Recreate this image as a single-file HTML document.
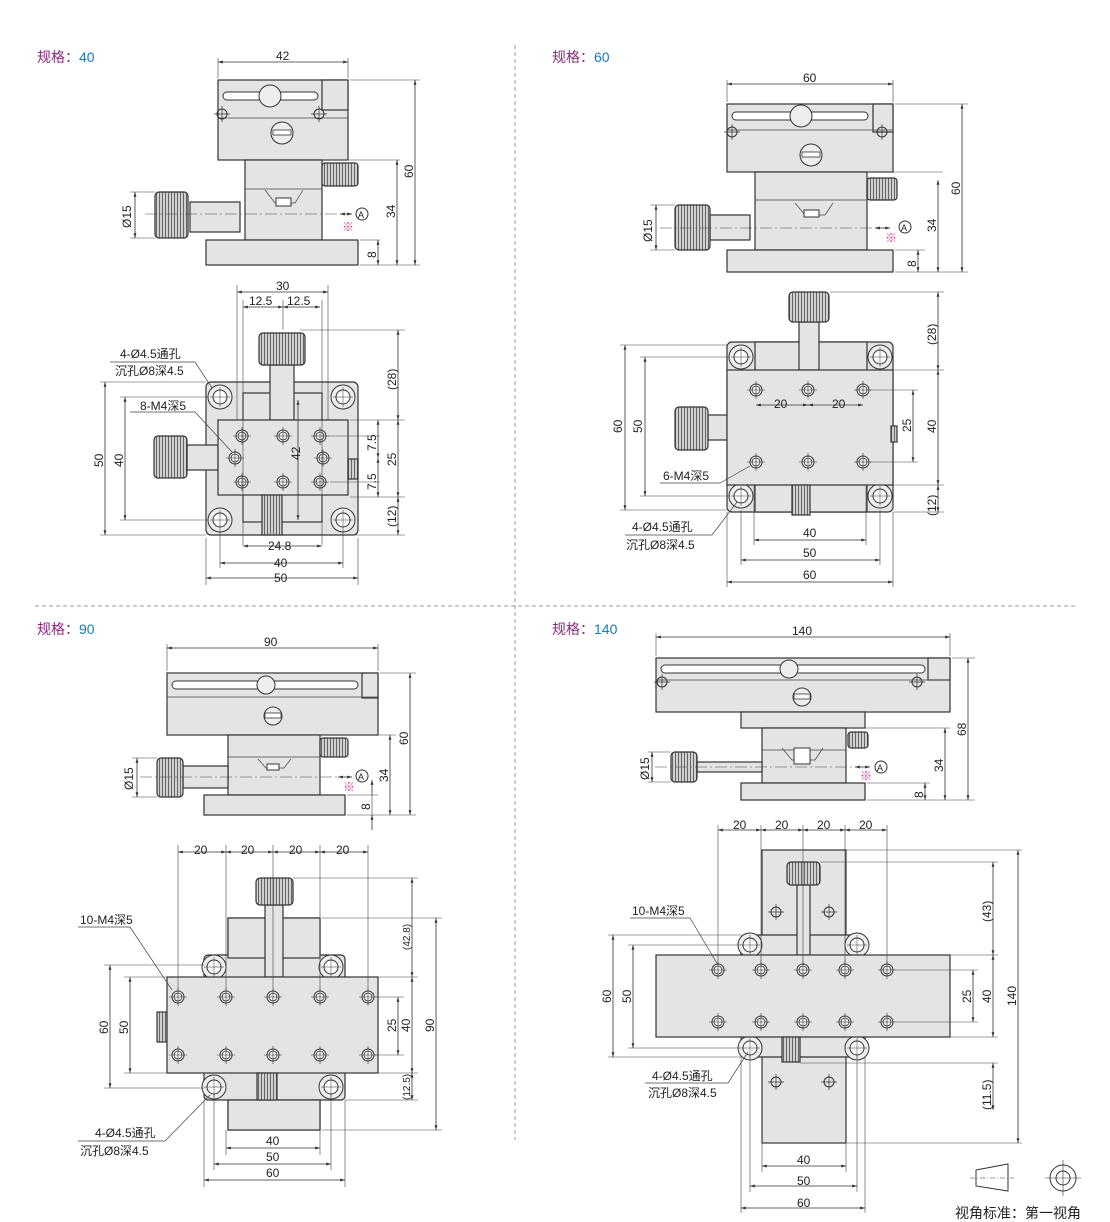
<!DOCTYPE html>
<html><head><meta charset="utf-8"><style>
html,body{margin:0;padding:0;background:#fff;}
svg{display:block;font-family:"Liberation Sans","Noto Sans CJK SC",sans-serif;}
.p{fill:#e4e4e4;stroke:#333;stroke-width:1.2}
.q{fill:url(#k);stroke:#333;stroke-width:1.2}
.d{stroke:#333;stroke-width:.8;fill:none;marker-start:url(#a);marker-end:url(#a)}
.e{stroke:#444;stroke-width:.6;fill:none}
.l{stroke:#444;stroke-width:.7;fill:none}
text{font-size:12px;fill:#222}
.t{font-size:14px}
.pu{fill:#8b2a7e}.bl{fill:#1a7ab8}
.pk{fill:#e0368c}
</style></head><body>
<svg width="1110" height="1222" viewBox="0 0 1110 1222">
<defs>
<pattern id="k" width="3" height="3" patternUnits="userSpaceOnUse"><rect width="3" height="3" fill="#d0d0d0"/><rect width="1" height="3" fill="#666"/></pattern>
<marker id="a" viewBox="0 0 10 10" refX="10" refY="5" markerWidth="8" markerHeight="6" orient="auto-start-reverse"><path d="M0,2 L10,5 L0,8z" fill="#333"/></marker>
<g id="h"><circle r="6" fill="#f4f4f4" stroke="#333" stroke-width="1"/><circle r="4" fill="none" stroke="#333" stroke-width=".8"/><path d="M-9,0H9M0,-9V9" stroke="#333" stroke-width=".6"/></g>
<g id="c"><circle r="12" fill="#eee" stroke="#333" stroke-width="1"/><circle r="7" fill="#fff" stroke="#333" stroke-width="1"/><path d="M-10,0H10M0,-10V10" stroke="#333" stroke-width=".5"/></g>
<g id="s"><circle r="5" fill="none" stroke="#333" stroke-width="1"/><path d="M-8,0H8M0,-8V8" stroke="#333" stroke-width=".7"/></g>
</defs>
<path d="M515,45V1140M35,606H1075" stroke="#999" stroke-width="1" stroke-dasharray="4,3"/>
<text x="37" y="62" class="t pu">规格：<tspan class="bl">40</tspan></text>
<text x="552" y="62" class="t pu">规格：<tspan class="bl">60</tspan></text>
<text x="37" y="634" class="t pu">规格：<tspan class="bl">90</tspan></text>
<text x="552" y="634" class="t pu">规格：<tspan class="bl">140</tspan></text>

<!-- ===== 40 side ===== -->
<rect class="p" x="218" y="80" width="130" height="80"/>
<rect class="p" x="322" y="80" width="26" height="30"/>
<path class="l" d="M218,118H348"/>
<rect x="223" y="92" width="95" height="8" rx="4" fill="#fff" stroke="#333"/>
<circle cx="270" cy="96" r="11" fill="#eee" stroke="#333"/>
<circle cx="282" cy="133" r="11" fill="#eee" stroke="#333"/><rect x="273" y="130" width="18" height="5" fill="#fff" stroke="#333" stroke-width=".8"/>
<use href="#s" x="222" y="114"/><use href="#s" x="319" y="114"/>
<rect class="p" x="245" y="160" width="77" height="80"/>
<path class="l" d="M245,189H322"/>
<path class="l" d="M265,190L275,203H295L303,190"/><rect x="276" y="198" width="15" height="8" fill="#fff" stroke="#333"/>
<rect class="q" x="322" y="163" width="36" height="23" rx="3"/>
<rect class="p" x="190" y="202" width="50" height="30"/>
<rect class="q" x="155" y="192" width="33" height="46" rx="4"/>
<rect class="p" x="206" y="240" width="152" height="25"/>
<path class="e" d="M145,214H340" stroke-dasharray="12,3,2,3"/>
<path class="d" d="M340,214H352"/>
<circle cx="362" cy="214" r="6" fill="#fff" stroke="#333"/><text x="358" y="218" style="font-size:9px">A</text>
<text x="342" y="231" class="pk">※</text>
<path class="e" d="M218,78V58M348,78V58M350,80H420M322,160H400M360,240H380M360,265H420M130,192H155M130,238H155"/>
<path class="d" d="M218,62H348"/><text x="276" y="60">42</text>
<path class="d" d="M415,80V265"/><text transform="translate(413,178) rotate(-90)">60</text>
<path class="d" d="M397,160V265"/><text transform="translate(395,218) rotate(-90)">34</text>
<path class="d" d="M378,240V265"/><text transform="translate(376,258) rotate(-90)">8</text>
<path class="d" d="M135,192V238"/><text transform="translate(131,228) rotate(-90)">Ø15</text>

<!-- ===== 40 top ===== -->
<rect class="p" x="206" y="382" width="152" height="153" rx="5"/>
<rect class="p" x="243" y="393" width="79" height="129"/>
<use href="#c" x="220" y="397"/><use href="#c" x="343" y="397"/><use href="#c" x="220" y="520"/><use href="#c" x="343" y="520"/>
<rect class="p" x="270" y="365" width="24" height="55"/>
<rect class="q" x="259" y="333" width="46" height="32" rx="4"/>
<rect class="p" x="187" y="445" width="31" height="25"/>
<rect class="q" x="154" y="436" width="33" height="42" rx="4"/>
<rect class="p" x="218" y="420" width="130" height="75"/>
<rect class="q" x="348" y="459" width="10" height="20"/>
<rect class="q" x="262" y="495" width="20" height="40"/>
<use href="#h" x="242" y="436"/><use href="#h" x="283" y="436"/><use href="#h" x="320" y="436"/>
<use href="#h" x="235" y="458"/><use href="#h" x="323" y="458"/>
<use href="#h" x="242" y="482"/><use href="#h" x="283" y="482"/><use href="#h" x="320" y="482"/>
<path class="e" d="M237,285V420M328,285V420M243,300V545M322,300V545M283,300V330M220,530V568M343,530V568M206,538V585M358,538V585M100,382H206M120,397H208M100,535H206M120,520H208M300,330H405M350,420H405M328,436H380M330,482H380M350,497H405M350,535H405"/>
<path class="d" d="M237,292H328"/><text x="276" y="290">30</text>
<path class="d" d="M243,307H283"/><path class="d" d="M320,307H283"/><text x="249" y="305">12.5</text><text x="287" y="305">12.5</text>
<path class="d" d="M243,546H322"/><text x="268" y="550">24.8</text>
<path class="d" d="M220,563H343"/><text x="274" y="567">40</text>
<path class="d" d="M206,578H358"/><text x="274" y="582">50</text>
<path class="d" d="M105,382V535"/><text transform="translate(103,467) rotate(-90)">50</text>
<path class="d" d="M125,397V520"/><text transform="translate(123,467) rotate(-90)">40</text>
<path class="d" d="M398,330V420"/><text transform="translate(396,390) rotate(-90)">(28)</text>
<path class="d" d="M398,420V497"/><text transform="translate(396,466) rotate(-90)">25</text>
<path class="d" d="M398,497V535"/><text transform="translate(396,527) rotate(-90)">(12)</text>
<path class="d" d="M378,420V458"/><path class="d" d="M378,497V458"/><text transform="translate(376,451) rotate(-90)">7.5</text><text transform="translate(376,490) rotate(-90)">7.5</text>
<path class="d" d="M298,400V520"/><text transform="translate(300,460) rotate(-90)">42</text>
<text x="120" y="358">4-Ø4.5通孔</text><text x="115" y="375">沉孔Ø8深4.5</text>
<path class="l" d="M110,362H195L212,388"/>
<text x="140" y="410">8-M4深5</text><path class="l" d="M130,412H195L232,452"/>

<!-- ===== 60 side ===== -->
<rect class="p" x="727" y="104" width="166" height="68"/>
<rect class="p" x="873" y="104" width="20" height="28"/>
<path class="l" d="M727,130H893"/>
<rect x="732" y="112" width="136" height="8" rx="4" fill="#fff" stroke="#333"/>
<circle cx="801" cy="116" r="11" fill="#eee" stroke="#333"/>
<circle cx="811" cy="155" r="11" fill="#eee" stroke="#333"/><rect x="802" y="152" width="18" height="5" fill="#fff" stroke="#333" stroke-width=".8"/>
<use href="#s" x="732" y="132"/><use href="#s" x="882" y="132"/>
<rect class="p" x="755" y="172" width="112" height="78"/>
<path class="l" d="M755,200H867M795,203L805,215H825L833,203"/><rect x="804" y="210" width="15" height="7" fill="#fff" stroke="#333"/>
<rect class="q" x="867" y="178" width="30" height="22" rx="3"/>
<rect class="p" x="710" y="215" width="40" height="25"/>
<rect class="q" x="675" y="205" width="35" height="45" rx="4"/>
<rect class="p" x="727" y="250" width="166" height="22"/>
<path class="e" d="M660,228H875" stroke-dasharray="12,3,2,3"/><path class="d" d="M875,228H890"/>
<circle cx="905" cy="227" r="6" fill="#fff" stroke="#333"/><text x="901" y="231" style="font-size:9px">A</text>
<text x="885" y="242" class="pk">※</text>
<path class="e" d="M727,102V80M893,102V80M895,104H968M867,172H943M895,250H925M895,272H968M650,205H675M650,250H675"/>
<path class="d" d="M727,84H893"/><text x="803" y="82">60</text>
<path class="d" d="M962,104V272"/><text transform="translate(960,195) rotate(-90)">60</text>
<path class="d" d="M938,180V272"/><text transform="translate(936,232) rotate(-90)">34</text>
<path class="d" d="M918,250V272"/><text transform="translate(916,267) rotate(-90)">8</text>
<path class="d" d="M656,205V250"/><text transform="translate(652,242) rotate(-90)">Ø15</text>

<!-- ===== 60 top ===== -->
<rect class="p" x="727" y="342" width="166" height="170" rx="5"/>
<rect class="p" x="755" y="342" width="112" height="170"/>
<use href="#c" x="741" y="357"/><use href="#c" x="880" y="357"/><use href="#c" x="741" y="496"/><use href="#c" x="880" y="496"/>
<rect class="p" x="799" y="322" width="20" height="48"/>
<rect class="q" x="789" y="292" width="40" height="30" rx="4"/>
<rect class="p" x="708" y="415" width="19" height="25"/>
<rect class="q" x="675" y="407" width="33" height="43" rx="4"/>
<rect class="p" x="727" y="370" width="166" height="115"/>
<rect class="q" x="891" y="426" width="6" height="16"/>
<rect class="q" x="792" y="485" width="18" height="30"/>
<use href="#h" x="756" y="390"/><use href="#h" x="808" y="390"/><use href="#h" x="863" y="390"/>
<use href="#h" x="756" y="462"/><use href="#h" x="808" y="462"/><use href="#h" x="863" y="462"/>
<path class="e" d="M754,485V545M866,485V545M741,510V565M880,510V565M727,512V587M893,512V587M620,345H727M640,357H730M620,510H727M640,496H730M830,292H944M893,370H944M870,390H918M870,462H918M893,485H944M893,512H944"/>
<path class="d" d="M756,405H808"/><path class="d" d="M863,405H808"/><text x="774" y="408">20</text><text x="832" y="408">20</text>
<path class="d" d="M754,540H866"/><text x="803" y="537">40</text>
<path class="d" d="M741,560H880"/><text x="803" y="557">50</text>
<path class="d" d="M727,582H893"/><text x="803" y="579">60</text>
<path class="d" d="M625,345V510"/><text transform="translate(622,433) rotate(-90)">60</text>
<path class="d" d="M645,357V496"/><text transform="translate(642,433) rotate(-90)">50</text>
<path class="d" d="M938,292V370"/><text transform="translate(936,345) rotate(-90)">(28)</text>
<path class="d" d="M938,370V485"/><text transform="translate(936,433) rotate(-90)">40</text>
<path class="d" d="M913,390V462"/><text transform="translate(911,432) rotate(-90)">25</text>
<path class="d" d="M938,485V512"/><text transform="translate(936,516) rotate(-90)">(12)</text>
<text x="663" y="480">6-M4深5</text><path class="l" d="M660,483H720L750,466"/>
<text x="632" y="531">4-Ø4.5通孔</text><text x="626" y="549">沉孔Ø8深4.5</text><path class="l" d="M625,535H712L737,502"/>

<!-- ===== 90 side ===== -->
<rect class="p" x="167" y="673" width="211" height="62"/>
<rect class="p" x="362" y="673" width="16" height="25"/>
<path class="l" d="M167,697H378"/>
<rect x="172" y="681" width="186" height="8" rx="4" fill="#fff" stroke="#333"/>
<circle cx="266" cy="685" r="9" fill="#eee" stroke="#333"/>
<circle cx="273" cy="716" r="9" fill="#eee" stroke="#333"/><rect x="265" y="713" width="16" height="5" fill="#fff" stroke="#333" stroke-width=".8"/>
<rect class="p" x="228" y="735" width="92" height="60"/>
<path class="l" d="M228,757H320M258,759L266,768H284L291,759"/><rect x="267" y="764" width="12" height="6" fill="#fff" stroke="#333"/>
<rect class="q" x="320" y="738" width="28" height="19" rx="3"/>
<rect class="p" x="183" y="766" width="45" height="22"/>
<rect class="q" x="157" y="758" width="26" height="39" rx="4"/>
<rect class="p" x="204" y="795" width="141" height="20"/>
<path class="e" d="M140,777H338" stroke-dasharray="12,3,2,3"/><path class="d" d="M338,777H352"/>
<circle cx="362" cy="776" r="6" fill="#fff" stroke="#333"/><text x="358" y="780" style="font-size:9px">A</text>
<text x="343" y="791" class="pk">※</text>
<path class="e" d="M167,671V644M378,671V644M380,673H416M322,735H396M347,795H378M347,815H416M132,758H157M132,797H157"/>
<path class="d" d="M167,648H378"/><text x="264" y="646">90</text>
<path class="d" d="M410,673V815"/><text transform="translate(408,745) rotate(-90)">60</text>
<path class="d" d="M390,735V815"/><text transform="translate(388,782) rotate(-90)">34</text>
<path class="d" d="M372,780V795M372,830V815"/><path class="e" d="M372,795V815"/><text transform="translate(370,810) rotate(-90)">8</text>
<path class="d" d="M137,758V797"/><text transform="translate(133,790) rotate(-90)">Ø15</text>

<!-- ===== 90 top ===== -->
<rect class="p" x="228" y="918" width="92" height="212"/>
<rect class="p" x="204" y="955" width="141" height="145" rx="4"/>
<rect class="p" x="228" y="918" width="92" height="40"/><rect class="p" x="228" y="1100" width="92" height="30"/>
<use href="#c" x="214" y="967"/><use href="#c" x="331" y="967"/><use href="#c" x="214" y="1087"/><use href="#c" x="331" y="1087"/>
<rect class="p" x="265" y="905" width="18" height="72"/>
<rect class="q" x="256" y="878" width="37" height="27" rx="4"/>
<rect class="q" x="157" y="1012" width="10" height="30"/>
<rect class="p" x="167" y="977" width="211" height="96"/>
<rect class="q" x="257" y="1073" width="20" height="27"/>
<use href="#h" x="178" y="997"/><use href="#h" x="226" y="997"/><use href="#h" x="273" y="997"/><use href="#h" x="320" y="997"/><use href="#h" x="368" y="997"/>
<use href="#h" x="178" y="1055"/><use href="#h" x="226" y="1055"/><use href="#h" x="273" y="1055"/><use href="#h" x="320" y="1055"/><use href="#h" x="368" y="1055"/>
<path class="e" d="M178,845V990M226,845V990M273,845V990M320,845V990M368,845V990M226,1130V1155M320,1130V1155M214,1095V1170M331,1095V1170M204,1100V1187M345,1100V1187M104,965H204M124,977H167M104,1088H204M124,1073H167M293,878H418M322,918H442M378,977H418M375,997H404M375,1055H404M378,1073H418M345,1100H418M322,1130H442"/>
<path class="d" d="M178,852H226"/><path class="d" d="M226,852H273"/><path class="d" d="M273,852H320"/><path class="d" d="M320,852H368"/>
<text x="194" y="854">20</text><text x="241" y="854">20</text><text x="289" y="854">20</text><text x="336" y="854">20</text>
<path class="d" d="M226,1148H320"/><text x="266" y="1145">40</text>
<path class="d" d="M214,1164H331"/><text x="266" y="1161">50</text>
<path class="d" d="M204,1180H345"/><text x="266" y="1177">60</text>
<path class="d" d="M110,965V1088"/><text transform="translate(108,1034) rotate(-90)">60</text>
<path class="d" d="M130,977V1073"/><text transform="translate(128,1034) rotate(-90)">50</text>
<path class="d" d="M412,878V977"/><text transform="translate(410,950) rotate(-90)" style="font-size:10px">(42.8)</text>
<path class="d" d="M412,977V1073"/><text transform="translate(410,1032) rotate(-90)">40</text>
<path class="d" d="M398,997V1055"/><text transform="translate(396,1032) rotate(-90)">25</text>
<path class="d" d="M412,1073V1100"/><text transform="translate(410,1100) rotate(-90)" style="font-size:10px">(12.5)</text>
<path class="d" d="M436,918V1130"/><text transform="translate(434,1032) rotate(-90)">90</text>
<text x="80" y="924">10-M4深5</text><path class="l" d="M78,927H130L172,990"/>
<text x="95" y="1137">4-Ø4.5通孔</text><text x="80" y="1155">沉孔Ø8深4.5</text><path class="l" d="M78,1141H165L210,1095"/>

<!-- ===== 140 side ===== -->
<rect class="p" x="656" y="658" width="294" height="54"/>
<rect class="p" x="928" y="658" width="22" height="22"/>
<path class="l" d="M656,680H950"/>
<rect x="661" y="665" width="264" height="8" rx="4" fill="#fff" stroke="#333"/>
<circle cx="789" cy="669" r="9" fill="#eee" stroke="#333"/>
<circle cx="802" cy="697" r="9" fill="#eee" stroke="#333"/><rect x="794" y="694" width="16" height="5" fill="#fff" stroke="#333" stroke-width=".8"/>
<use href="#s" x="662" y="682"/><use href="#s" x="917" y="682"/>
<rect class="p" x="741" y="712" width="124" height="16"/>
<rect class="p" x="762" y="728" width="84" height="55"/>
<path class="l" d="M762,750H846M782,748L792,760H815L823,748"/><rect x="794" y="748" width="16" height="16" fill="#fff" stroke="#333"/>
<rect class="q" x="848" y="732" width="20" height="16" rx="3"/>
<rect class="p" x="697" y="762" width="65" height="10"/>
<rect class="q" x="671" y="752" width="26" height="30" rx="4"/>
<rect class="p" x="741" y="783" width="124" height="17"/>
<path class="e" d="M655,767H855" stroke-dasharray="12,3,2,3"/><path class="d" d="M855,767H870"/>
<circle cx="881" cy="767" r="6" fill="#fff" stroke="#333"/><text x="877" y="771" style="font-size:9px">A</text>
<text x="860" y="780" class="pk">※</text>
<path class="e" d="M656,656V633M950,656V633M952,658H975M848,728H950M867,783H930M867,800H975M648,752H671M648,782H671"/>
<path class="d" d="M656,637H950"/><text x="792" y="635">140</text>
<path class="d" d="M968,658V800"/><text transform="translate(966,736) rotate(-90)">68</text>
<path class="d" d="M945,728V800"/><text transform="translate(943,772) rotate(-90)">34</text>
<path class="d" d="M925,783V800"/><text transform="translate(923,798) rotate(-90)">8</text>
<path class="d" d="M652,752V782"/><text transform="translate(649,780) rotate(-90)">Ø15</text>

<!-- ===== 140 top ===== -->
<rect class="p" x="762" y="850" width="84" height="293"/>
<rect class="p" x="741" y="935" width="124" height="122" rx="3"/>
<use href="#c" x="750" y="945"/><use href="#c" x="857" y="945"/><use href="#c" x="750" y="1048"/><use href="#c" x="857" y="1048"/>
<use href="#s" x="776" y="912"/><use href="#s" x="829" y="912"/><use href="#s" x="776" y="1082"/><use href="#s" x="829" y="1082"/>
<rect class="p" x="797" y="885" width="13" height="70"/>
<rect class="q" x="787" y="862" width="33" height="23" rx="4"/>
<rect class="p" x="656" y="955" width="294" height="82"/>
<rect class="q" x="782" y="1037" width="18" height="25"/>
<use href="#h" x="718" y="970"/><use href="#h" x="761" y="970"/><use href="#h" x="803" y="970"/><use href="#h" x="845" y="970"/><use href="#h" x="887" y="970"/>
<use href="#h" x="718" y="1022"/><use href="#h" x="761" y="1022"/><use href="#h" x="803" y="1022"/><use href="#h" x="845" y="1022"/><use href="#h" x="887" y="1022"/>
<path class="e" d="M718,825V965M761,825V965M803,825V965M845,825V965M887,825V965M762,1143V1172M846,1143V1172M750,1055V1192M857,1055V1192M741,1057V1213M865,1057V1213M608,935H741M628,945H741M608,1057H741M628,1048H741M846,850H1022M820,862H998M950,955H998M895,970H978M895,1022H978M950,1037H998M800,1063H998M846,1143H1022"/>
<path class="d" d="M718,830H761"/><path class="d" d="M761,830H803"/><path class="d" d="M803,830H845"/><path class="d" d="M845,830H887"/>
<text x="733" y="829">20</text><text x="775" y="829">20</text><text x="817" y="829">20</text><text x="859" y="829">20</text>
<path class="d" d="M762,1166H846"/><text x="797" y="1164">40</text>
<path class="d" d="M750,1186H857"/><text x="797" y="1185">50</text>
<path class="d" d="M741,1208H865"/><text x="797" y="1207">60</text>
<path class="d" d="M613,935V1057"/><text transform="translate(611,1003) rotate(-90)">60</text>
<path class="d" d="M633,945V1048"/><text transform="translate(631,1003) rotate(-90)">50</text>
<path class="d" d="M993,862V955"/><text transform="translate(991,922) rotate(-90)">(43)</text>
<path class="d" d="M993,955V1037"/><text transform="translate(991,1003) rotate(-90)">40</text>
<path class="d" d="M973,970V1022"/><text transform="translate(971,1003) rotate(-90)">25</text>
<path class="d" d="M993,1063V1110"/><text transform="translate(991,1110) rotate(-90)">(11.5)</text>
<path class="d" d="M1018,850V1143"/><text transform="translate(1016,1006) rotate(-90)">140</text>
<text x="632" y="915">10-M4深5</text><path class="l" d="M630,918H690L718,965"/>
<text x="652" y="1080">4-Ø4.5通孔</text><text x="648" y="1097">沉孔Ø8深4.5</text><path class="l" d="M645,1083H728L748,1052"/>

<!-- legend -->
<path d="M976,1170L1008,1164V1191L976,1186Z" fill="#fff" stroke="#333"/>
<path d="M970,1178H1014" stroke="#333" stroke-width=".6" stroke-dasharray="5,2,1,2"/>
<circle cx="1063" cy="1178" r="13" fill="#fff" stroke="#333"/><circle cx="1063" cy="1178" r="7" fill="#fff" stroke="#333"/>
<path d="M1045,1178H1081M1063,1160V1196" stroke="#333" stroke-width=".6"/>
<text x="955" y="1218" style="font-size:14px">视角标准：第一视角</text>
</svg>
</body></html>
